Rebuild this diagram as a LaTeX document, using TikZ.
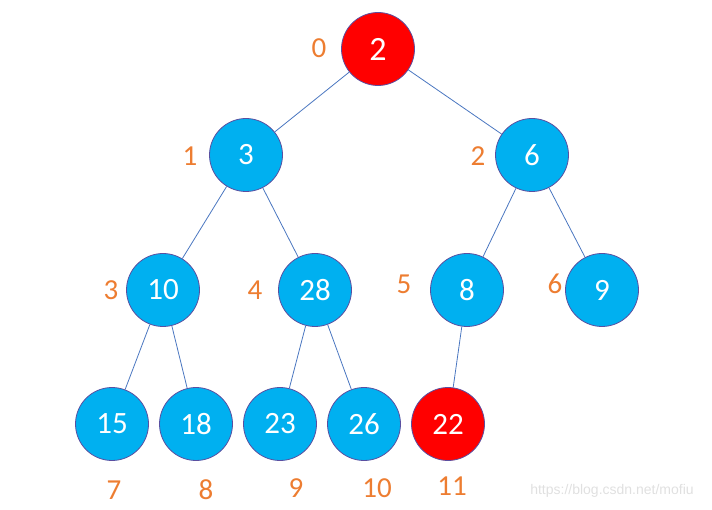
\documentclass[tikz,border=0pt]{standalone}
\usepackage{fontspec}
\setmainfont{Carlito}
\newfontfamily\wmfont{Liberation Sans}
\definecolor{nodeblue}{HTML}{00B0F0}
\definecolor{nodered}{HTML}{FF0000}
\definecolor{rimcol}{HTML}{5B4FA0}
\definecolor{edgecol}{HTML}{4A76C0}
\definecolor{idxcol}{HTML}{ED7D31}
\begin{document}
\begin{tikzpicture}[x=1pt,y=-1pt,
  heapnode/.style={circle,minimum size=73pt,inner sep=0pt,draw=rimcol,line width=0.8pt,
    text=white,font=\fontsize{31}{31}\selectfont},
  bluenode/.style={heapnode,fill=nodeblue},
  rednode/.style={heapnode,fill=nodered},
  idx/.style={text=idxcol,font=\fontsize{29}{29}\selectfont,inner sep=0pt},
  edge/.style={draw=edgecol,line width=0.8pt}]
\useasboundingbox (0,0) rectangle (712,510);
\node[rednode,font=\fontsize{34}{34}\selectfont] (n0) at (378,49) {2};
\node[bluenode] (n1) at (246,155) {3};
\node[bluenode] (n2) at (532,155) {6};
\node[bluenode] (n3) at (163,290) {10};
\node[bluenode] (n4) at (315,290) {28};
\node[bluenode] (n5) at (467,290) {8};
\node[bluenode] (n6) at (602,290) {9};
\node[bluenode] (n7) at (112,424) {15};
\node[bluenode] (n8) at (196,424) {18};
\node[bluenode] (n9) at (280,424) {23};
\node[bluenode] (n10) at (364,424) {26};
\node[rednode] (n11) at (448,424) {22};
\foreach \a/\b in {n0/n1,n0/n2,n1/n3,n1/n4,n2/n5,n2/n6,n3/n7,n3/n8,n4/n9,n4/n10,n5/n11}
  \draw[edge] (\a) -- (\b);
\node[idx] (i0) at (319,48) {0};
\node[idx] (i1) at (190,156) {1};
\node[idx] (i2) at (478,156) {2};
\node[idx] (i3) at (111,290) {3};
\node[idx] (i4) at (255,290) {4};
\node[idx] (i5) at (404,284) {5};
\node[idx] (i6) at (555,284) {6};
\node[idx] (i7) at (114,490) {7};
\node[idx] (i8) at (206,490) {8};
\node[idx] (i9) at (296,488) {9};
\node[idx] (i10) at (377,488) {10};
\node[idx] (i11) at (452,486) {11};
\node[text=black!12,font=\wmfont\fontsize{14}{14}\selectfont,inner sep=0pt] (wm) at (612,491) {https://blog.csdn.net/mofiu};
\end{tikzpicture}
\end{document}
